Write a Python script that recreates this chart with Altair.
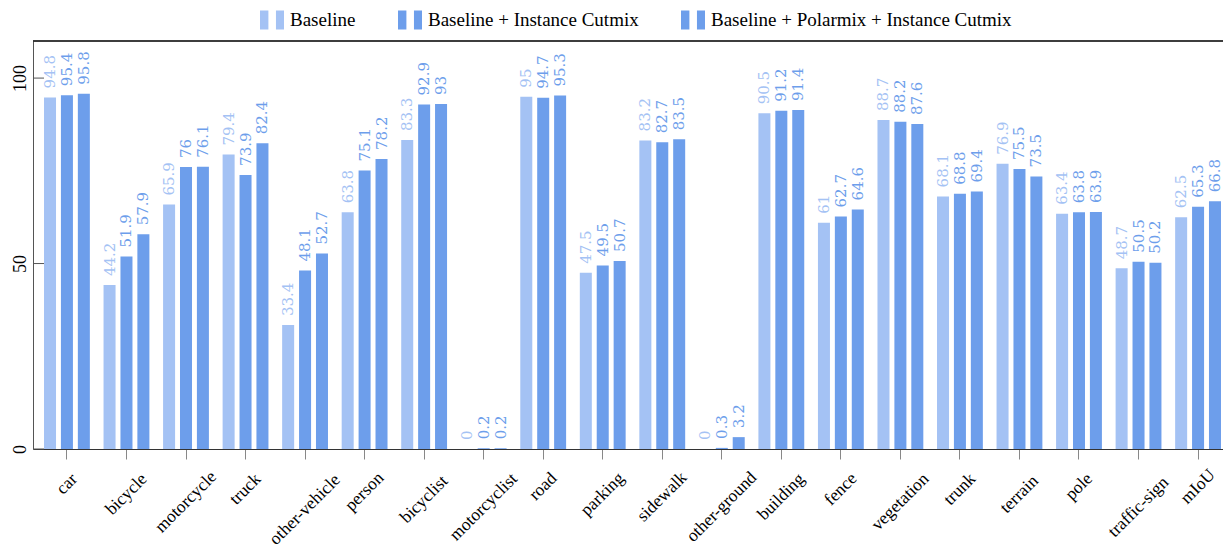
import altair as alt
import pandas as pd

categories = ["car", "bicycle", "motorcycle", "truck", "other-vehicle", "person",
              "bicyclist", "motorcyclist", "road", "parking", "sidewalk", "other-ground",
              "building", "fence", "vegetation", "trunk", "terrain", "pole",
              "traffic-sign", "mIoU"]
baseline = [94.8, 44.2, 65.9, 79.4, 33.4, 63.8, 83.3, 0, 95, 47.5, 83.2, 0,
            90.5, 61, 88.7, 68.1, 76.9, 63.4, 48.7, 62.5]
inst_cutmix = [95.4, 51.9, 76, 73.9, 48.1, 75.1, 92.9, 0.2, 94.7, 49.5, 82.7, 0.3,
               91.2, 62.7, 88.2, 68.8, 75.5, 63.8, 50.5, 65.3]
polar_inst = [95.8, 57.9, 76.1, 82.4, 52.7, 78.2, 93, 0.2, 95.3, 50.7, 83.5, 3.2,
              91.4, 64.6, 87.6, 69.4, 73.5, 63.9, 50.2, 66.8]
series_names = ["Baseline", "Baseline + Instance Cutmix",
                "Baseline + Polarmix + Instance Cutmix"]
y_ticks = [0, 50, 100]

LIGHT = "#a4c2f4"
DARK = "#6d9eeb"
SERIF = "Liberation Serif"
VALUE_FONT = "DejaVu Serif"

rows = []
for i, c in enumerate(categories):
    for s, vals in zip(series_names, [baseline, inst_cutmix, polar_inst]):
        rows.append({"cat": c, "series": s, "v": vals[i], "lbl": f"{vals[i]:g}"})
df = pd.DataFrame(rows)
cat_df = pd.DataFrame({"cat": categories})
tick_df = pd.DataFrame({"v": y_ticks})

# visible plot area is cut at the right edge, like the reference
W, H = 1190, 408
X_RANGE = 1199

x_enc = alt.X("cat:N", sort=categories,
              scale=alt.Scale(paddingInner=0.23, paddingOuter=0.185, range=[0, X_RANGE]),
              axis=alt.Axis(title=None, labels=False, ticks=True, tickSize=10,
                            tickColor="#888888", domain=True, domainColor="#333333"))
xo_enc = alt.XOffset("series:N", sort=series_names,
                     scale=alt.Scale(paddingInner=0.29, paddingOuter=0))
y_enc = alt.Y("v:Q", scale=alt.Scale(domain=[0, 110], nice=False),
              axis=alt.Axis(title=None, values=y_ticks, ticks=False, grid=False,
                            labelAngle=270, labelAlign="center",
                            labelBaseline="alphabetic", labelPadding=8,
                            labelFont=SERIF, labelFontSize=18, labelColor="black",
                            domainColor="#555555"))
SYMBOL = "M-1,-0.8H-0.3V0.8H-1Z M0.33,-0.8H1V0.8H0.33Z"
color_enc = alt.Color("series:N", sort=series_names,
                      scale=alt.Scale(domain=series_names, range=[LIGHT, DARK, DARK]),
                      legend=alt.Legend(title=None, orient="none", legendX=227, legendY=-33,
                                        direction="horizontal", symbolType=SYMBOL,
                                        symbolSize=576, symbolStrokeWidth=0,
                                        symbolOpacity=1, labelFont=SERIF,
                                        labelFontSize=19, labelColor="black",
                                        labelLimit=500,
                                        labelOffset=6, columnPadding=42, padding=0))

base = alt.Chart(df)
bars = base.mark_bar().encode(x=x_enc, xOffset=xo_enc, y=y_enc, color=color_enc)
vals = base.mark_text(angle=270, align="left", baseline="middle", dx=9,
                      font=VALUE_FONT, fontSize=15).encode(
    x=x_enc, xOffset=xo_enc, y=y_enc, color=color_enc, text="lbl:N")

ytick_rules = alt.Chart(tick_df).mark_rule(color="#555555", strokeWidth=1).encode(
    y=y_enc, x=alt.value(0), x2=alt.value(11))

top_rule = alt.Chart(tick_df).mark_rule(color="#222222", strokeWidth=1.2).encode(
    y=alt.value(0), x=alt.value(0), x2=alt.value(W))

xlabels = alt.Chart(cat_df).mark_text(
    angle=315, align="center", baseline="middle", font=SERIF, fontSize=17.5,
    color="black",
    dx=alt.ExprRef(expr="-(length(datum.cat)*7.2+13)/4"),
    dy=alt.ExprRef(expr="(length(datum.cat)*7.2+13)/4"),
).encode(x=x_enc, y=alt.value(431), text="cat:N")

chart = alt.layer(bars, vals, ytick_rules, top_rule, xlabels).properties(
    width=W, height=H,
    padding={"left": 25, "top": 33, "right": 0, "bottom": 100},
    autosize=alt.AutoSizeParams(type="none"),
    background="white",
).configure_view(strokeWidth=0, strokeOpacity=0)

chart.save("out.html", embed_options={"renderer": "svg", "actions": False})
